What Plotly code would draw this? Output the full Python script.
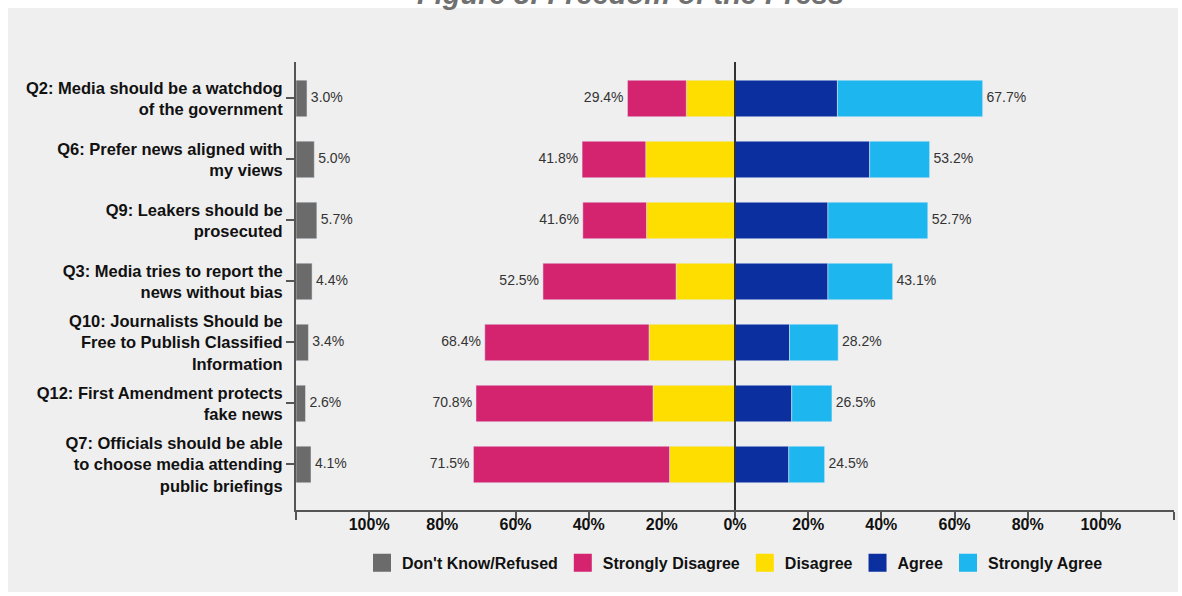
import plotly.graph_objects as go

# ---- data ----
questions = [
    "Q2: Media should be a watchdog<br>of the government",
    "Q6: Prefer news aligned with<br>my views",
    "Q9: Leakers should be<br>prosecuted",
    "Q3: Media tries to report the<br>news without bias",
    "Q10: Journalists Should be<br>Free to Publish Classified<br>Information",
    "Q12: First Amendment protects<br>fake news",
    "Q7: Officials should be able<br>to choose media attending<br>public briefings",
]
dont_know = [3.0, 5.0, 5.7, 4.4, 3.4, 2.6, 4.1]
strongly_disagree = [16.1, 17.4, 17.4, 36.4, 44.9, 48.4, 53.6]
disagree = [13.3, 24.4, 24.2, 16.1, 23.5, 22.4, 17.9]
agree = [28.0, 36.8, 25.4, 25.4, 14.9, 15.5, 14.7]
strongly_agree = [39.7, 16.4, 27.3, 17.7, 13.3, 11.0, 9.8]
series_names = ["Don't Know/Refused", "Strongly Disagree", "Disagree", "Agree", "Strongly Agree"]
x_tickvals = [-120, -100, -80, -60, -40, -20, 0, 20, 40, 60, 80, 100, 120]
x_ticktext = ["", "100%", "80%", "60%", "40%", "20%", "0%", "20%", "40%", "60%", "80%", "100%", ""]
title_text = "Figure 8: Freedom of the Press"

# ---- styles ----
C_DK = "#6b6b6b"
C_SD = "#d5246f"
C_D = "#fedd00"
C_A = "#0b2f9f"
C_SA = "#1eb6ee"
series_colors = [C_DK, C_SD, C_D, C_A, C_SA]
FONT = "Liberation Sans, Arial, sans-serif"
X_MIN, X_MAX = -120, 120

neg_total = [a + b for a, b in zip(strongly_disagree, disagree)]
pos_total = [a + b for a, b in zip(agree, strongly_agree)]

fig = go.Figure()

bar_common = dict(orientation="h", width=0.6, showlegend=False)
fig.add_trace(go.Bar(name=series_names[0], y=questions, x=dont_know, base=X_MIN,
                     marker_color=C_DK, legendgroup=series_names[0], **bar_common))
fig.add_trace(go.Bar(name=series_names[2], y=questions, x=[-v for v in disagree],
                     marker_color=C_D, legendgroup=series_names[2], **bar_common))
fig.add_trace(go.Bar(name=series_names[1], y=questions, x=[-v for v in strongly_disagree],
                     marker_color=C_SD, legendgroup=series_names[1], **bar_common))
fig.add_trace(go.Bar(name=series_names[3], y=questions, x=agree,
                     marker_color=C_A, legendgroup=series_names[3], **bar_common))
fig.add_trace(go.Bar(name=series_names[4], y=questions, x=strongly_agree,
                     marker_color=C_SA, legendgroup=series_names[4], **bar_common))

# legend entries with larger square swatches
for i, (nm, col) in enumerate(zip(series_names, series_colors)):
    fig.add_trace(go.Scatter(
        x=[None], y=[None], mode="markers", name=nm, legendgroup=nm, legendrank=i + 1,
        marker=dict(symbol="square", size=16, color=col, line=dict(color=col, width=2)),
        showlegend=True, hoverinfo="skip",
    ))

label_font = dict(family=FONT, size=14, color="#333333")
fig.add_trace(go.Scatter(
    y=questions, x=[X_MIN + v for v in dont_know], mode="text",
    text=[f" {v:.1f}%" for v in dont_know], textposition="middle right",
    textfont=label_font, showlegend=False, cliponaxis=False, hoverinfo="skip",
))
fig.add_trace(go.Scatter(
    y=questions, x=[-v for v in neg_total], mode="text",
    text=[f"{v:.1f}% " for v in neg_total], textposition="middle left",
    textfont=label_font, showlegend=False, cliponaxis=False, hoverinfo="skip",
))
fig.add_trace(go.Scatter(
    y=questions, x=pos_total, mode="text",
    text=[f" {v:.1f}%" for v in pos_total], textposition="middle right",
    textfont=label_font, showlegend=False, cliponaxis=False, hoverinfo="skip",
))

# grey panel behind the chart
fig.add_shape(type="rect", xref="paper", yref="paper",
              x0=-0.328, x1=1.0046, y0=-0.183, y1=1.1205,
              fillcolor="#efefef", line_width=0, layer="below")
# centre line
fig.add_shape(type="line", xref="x", yref="paper", x0=0, x1=0, y0=0, y1=1,
              line=dict(color="#333333", width=2), layer="above")

fig.add_annotation(
    text=title_text, xref="paper", yref="paper", x=0.3815, y=1.1116,
    xanchor="center", yanchor="bottom", showarrow=False,
    font=dict(family=FONT, size=29, color="#707070", weight="bold", style="italic"),
)

fig.update_layout(
    width=1182, height=596,
    margin=dict(l=296, r=8, t=62, b=86),
    paper_bgcolor="white", plot_bgcolor="rgba(0,0,0,0)",
    barmode="relative", bargap=0.4,
    font=dict(family=FONT, color="#111111"),
    showlegend=True,
    legend=dict(orientation="h", x=0.5, xanchor="center", y=-0.118, yanchor="middle",
                font=dict(family=FONT, size=16, color="#111111", weight="bold"),
                bgcolor="rgba(0,0,0,0)", traceorder="normal", itemwidth=30,
                itemsizing="trace"),
    xaxis=dict(range=[X_MIN, X_MAX], tickvals=x_tickvals, ticktext=x_ticktext,
               showgrid=False, zeroline=False, showline=True, linecolor="#555555",
               linewidth=2, ticks="outside", ticklen=8, tickwidth=2, tickcolor="#555555",
               ticklabelstandoff=-9,
               tickfont=dict(family=FONT, size=16, color="#111111", weight="bold"),
               fixedrange=True),
    yaxis=dict(type="category", categoryorder="array", categoryarray=questions,
               range=[6.746, -0.598], showgrid=False, zeroline=False, showline=True,
               linecolor="#555555", linewidth=2, ticks="outside", ticklen=8,
               tickwidth=2, tickcolor="#555555",
               tickfont=dict(family=FONT, size=16.5, color="#111111", weight="bold"),
               fixedrange=True),
)

fig.write_html("out.html", config={"displayModeBar": False},
               post_script="document.body.style.margin='0';document.body.style.overflow='hidden';")
